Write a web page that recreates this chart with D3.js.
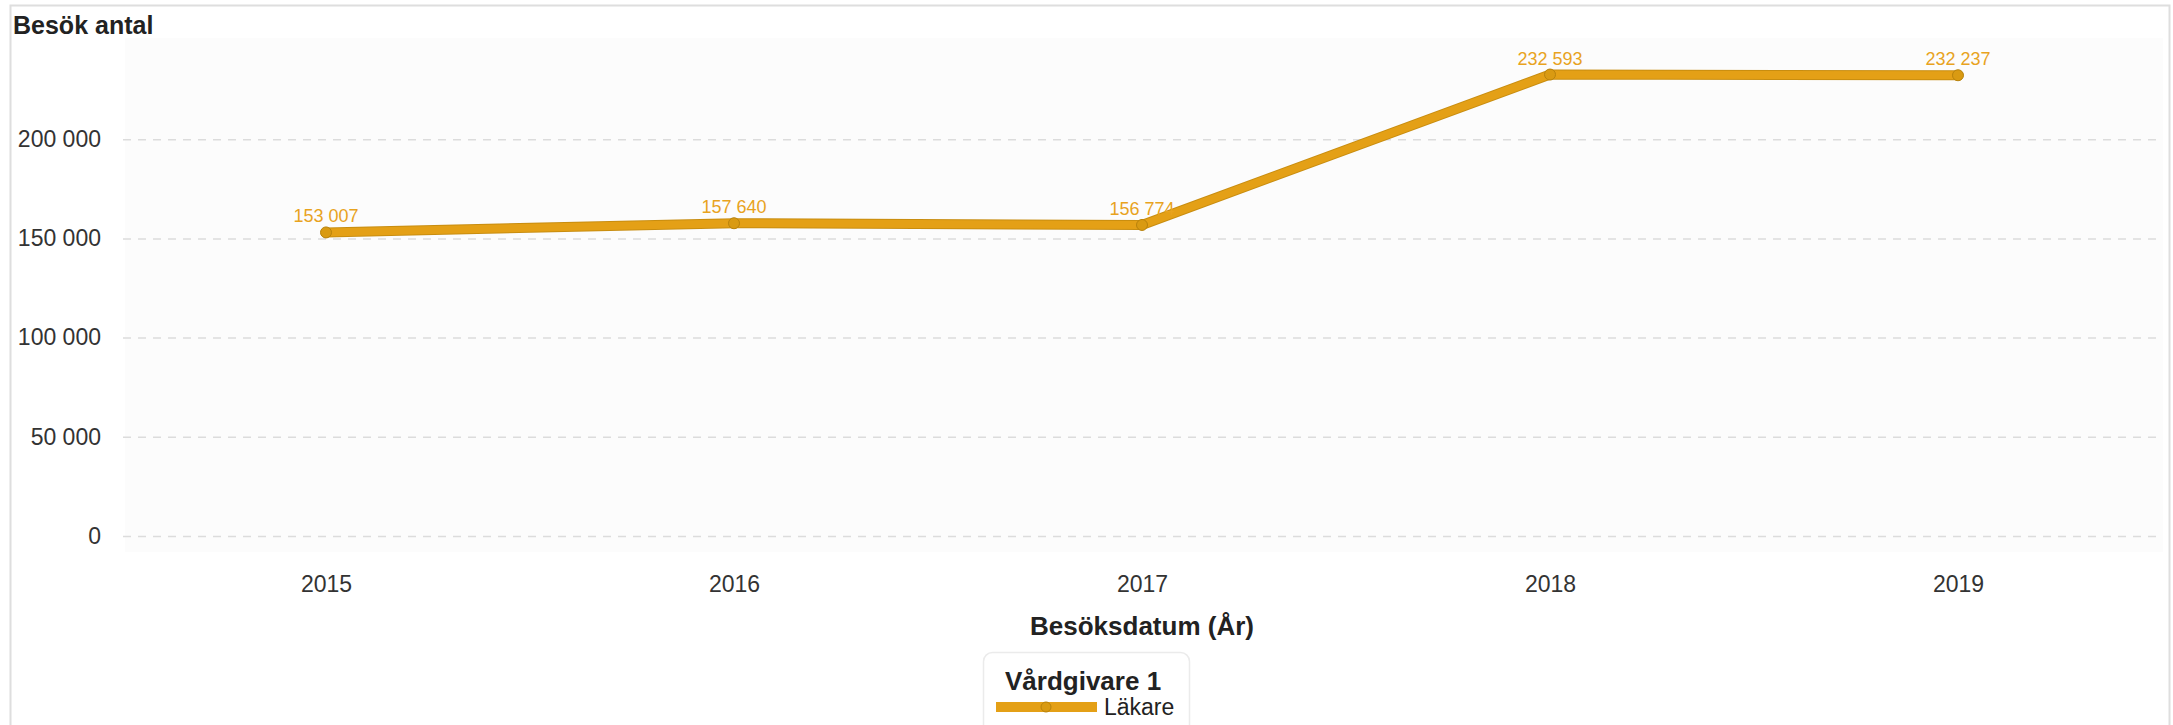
<!DOCTYPE html>
<html>
<head>
<meta charset="utf-8">
<script src="https://cdn.jsdelivr.net/npm/d3@7"></script>
<style>
  html, body { margin: 0; padding: 0; background: #fff; }
  svg { display: block; font-family: Arial, "Liberation Sans", sans-serif; }
</style>
</head>
<body>
<div id="chart"></div>
<script>
// data
var years = ["2015", "2016", "2017", "2018", "2019"];
var lakareValues = [153007, 157640, 156774, 232593, 232237];
var yTickValues = [0, 50000, 100000, 150000, 200000];
var seriesName = "Läkare";
var legendTitle = "Vårdgivare 1";
var yTitle = "Besök antal";
var xTitle = "Besöksdatum (År)";

const width = 2173;
const height = 725;
const plotLeft = 122;
const plotRight = 2162;
const plotTop = 40;
const plotBottom = 536;
const lineColor = "#E4A016";
const lineEdge = "#C88D10";
const labelColor = "#E8A31E";
const gridColor = "#DCDCDC";
const textColor = "#333333";

var fmt = function (v) {
    return d3.format(",")(v).replace(/,/g, " ");
};

var svg = d3.select("#chart")
    .append("svg")
    .attr("width", width)
    .attr("height", height);

//Outer frame
svg.append("rect")
    .attr("x", 10.5).attr("y", 5.5)
    .attr("width", width - 14).attr("height", height)
    .attr("fill", "#fff")
    .attr("stroke", "#DEDEDE")
    .attr("stroke-width", 2);

var x = d3.scalePoint().domain(years).range([plotLeft, plotRight]).padding(0.5);
var y = d3.scaleLinear().domain([0, 250000]).range([plotBottom, plotTop]);

//Plot background
svg.append("rect")
    .attr("x", 125).attr("y", y(250000) - 2)
    .attr("width", plotRight + 1 - 125)
    .attr("height", y(0) + 16 - (y(250000) - 2))
    .attr("fill", "#FCFCFC");

//Y grid + labels
var yAxis = d3.axisLeft(y)
    .tickValues(yTickValues)
    .tickSize(-(plotRight - 123))
    .tickPadding(22)
    .tickFormat(fmt);
var gy = svg.append("g")
    .attr("transform", "translate(123,0)")
    .call(yAxis);
gy.select(".domain").remove();
gy.selectAll(".tick line")
    .attr("stroke", gridColor)
    .attr("stroke-width", 1.5)
    .attr("stroke-dasharray", "8,7");
gy.selectAll(".tick text")
    .attr("fill", textColor)
    .style("font-size", "23px");

//X axis labels
var xAxis = d3.axisBottom(x).tickSize(0).tickPadding(0);
var gx = svg.append("g")
    .attr("transform", "translate(0,576)")
    .call(xAxis);
gx.select(".domain").remove();
gx.selectAll(".tick text")
    .attr("fill", textColor)
    .attr("dy", "0.71em")
    .style("font-size", "23px");

//Titles
svg.append("text")
    .attr("x", 13).attr("y", 34)
    .attr("fill", "#222")
    .attr("font-weight", "bold")
    .style("font-size", "25px")
    .text(yTitle);

svg.append("text")
    .attr("x", (plotLeft + plotRight) / 2).attr("y", 635)
    .attr("text-anchor", "middle")
    .attr("fill", "#222")
    .attr("font-weight", "bold")
    .style("font-size", "26px")
    .text(xTitle);

//Series line
var pts = years.map(function (d, i) { return [x(d), y(lakareValues[i])]; });
var line = d3.line();
svg.append("path")
    .attr("d", line(pts))
    .attr("fill", "none")
    .attr("stroke", lineEdge)
    .attr("stroke-width", 10)
    .attr("stroke-linejoin", "round")
    .attr("stroke-linecap", "round");
svg.append("path")
    .attr("d", line(pts))
    .attr("fill", "none")
    .attr("stroke", lineColor)
    .attr("stroke-width", 8)
    .attr("stroke-linejoin", "round")
    .attr("stroke-linecap", "round");

//Points
svg.selectAll(".pt")
    .data(lakareValues)
    .enter()
    .append("circle")
    .attr("class", "pt")
    .attr("cx", function (d, i) { return x(years[i]); })
    .attr("cy", function (d) { return y(d); })
    .attr("r", 5.5)
    .attr("fill", "#D99A12")
    .attr("stroke", "#B8820C")
    .attr("stroke-width", 1);

//Value labels
svg.selectAll(".lbl")
    .data(lakareValues)
    .enter()
    .append("text")
    .attr("class", "lbl")
    .attr("x", function (d, i) { return x(years[i]); })
    .attr("y", function (d) { return y(d) - 10; })
    .attr("text-anchor", "middle")
    .attr("fill", labelColor)
    .style("font-size", "18px")
    .text(function (d) { return fmt(d); });

//Legend
var lg = svg.append("g");
lg.append("rect")
    .attr("x", 983.5).attr("y", 652.5)
    .attr("width", 206).attr("height", 90)
    .attr("rx", 9)
    .attr("fill", "#fff")
    .attr("stroke", "#EBEBEB")
    .attr("stroke-width", 1.5);
lg.append("text")
    .attr("x", 1005).attr("y", 690)
    .attr("fill", "#222")
    .attr("font-weight", "bold")
    .style("font-size", "26px")
    .text(legendTitle);
lg.append("line")
    .attr("x1", 996).attr("x2", 1097)
    .attr("y1", 707).attr("y2", 707)
    .attr("stroke", lineColor)
    .attr("stroke-width", 10);
lg.append("circle")
    .attr("cx", 1046).attr("cy", 707)
    .attr("r", 5)
    .attr("fill", "#D99A12")
    .attr("stroke", "#B8820C");
lg.append("text")
    .attr("x", 1104).attr("y", 715)
    .attr("fill", "#222")
    .style("font-size", "23px")
    .text(seriesName);
</script>
</body>
</html>
